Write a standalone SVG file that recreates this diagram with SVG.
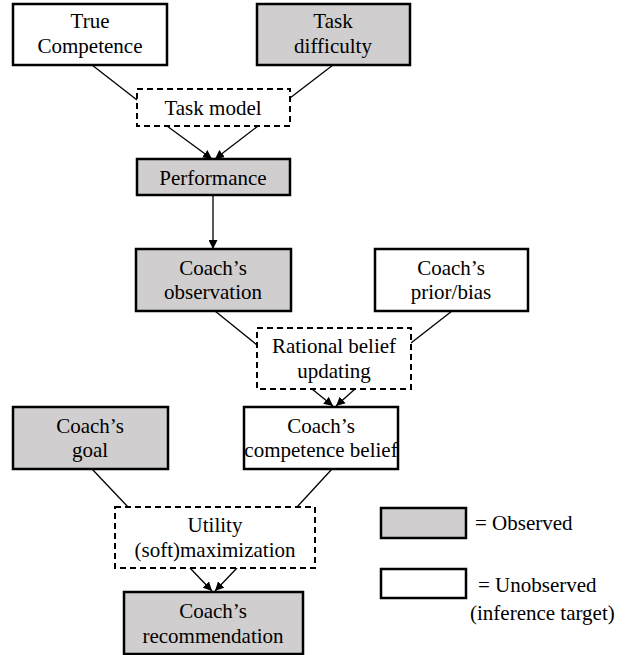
<svg xmlns="http://www.w3.org/2000/svg" width="626" height="655" viewBox="0 0 626 655" font-family="Times New Roman" font-size="21px">
<defs>
<marker id="ah" viewBox="0 0 10 10" refX="10" refY="5" markerWidth="9" markerHeight="9" markerUnits="userSpaceOnUse" orient="auto">
<path d="M0,0 L10,5 L0,10 z" fill="#000"/>
</marker>
</defs>
<style>
.obs{fill:#d0cece;stroke:#000;stroke-width:2.5}
.un{fill:#fff;stroke:#000;stroke-width:2.5}
.dash{fill:#fff;stroke:#000;stroke-width:2;stroke-dasharray:6,4}
.c{stroke:#000;stroke-width:1.3;fill:none}
</style>
<rect width="626" height="655" fill="#fff"/>
<g id="connectors">
<line class="c" x1="92" y1="65" x2="137" y2="100"/>
<line class="c" x1="333" y1="65" x2="290" y2="98"/>
<line class="c" x1="167" y1="126" x2="212" y2="159" marker-end="url(#ah)"/>
<line class="c" x1="258" y1="126" x2="215" y2="159" marker-end="url(#ah)"/>
<line class="c" x1="213" y1="195" x2="213" y2="249" marker-end="url(#ah)"/>
<line class="c" x1="215" y1="311" x2="257" y2="345"/>
<line class="c" x1="452" y1="311" x2="411" y2="343"/>
<line class="c" x1="312" y1="389" x2="333" y2="406" marker-end="url(#ah)"/>
<line class="c" x1="355" y1="389" x2="336" y2="406" marker-end="url(#ah)"/>
<line class="c" x1="92" y1="469" x2="128" y2="507"/>
<line class="c" x1="332" y1="469" x2="297" y2="507"/>
<line class="c" x1="190" y1="568" x2="212" y2="591" marker-end="url(#ah)"/>
<line class="c" x1="237" y1="568" x2="215" y2="591" marker-end="url(#ah)"/>
</g>
<g id="true-competence">
<rect class="un" x="13" y="4" width="154" height="61"/>
<text x="90" y="28" text-anchor="middle">True</text>
<text x="90" y="53" text-anchor="middle">Competence</text>
</g>
<g id="task-difficulty">
<rect class="obs" x="257" y="4" width="153" height="61"/>
<text x="333" y="28" text-anchor="middle">Task</text>
<text x="333" y="53" text-anchor="middle">difficulty</text>
</g>
<g id="task-model">
<rect class="dash" x="137" y="89" width="153" height="37"/>
<text x="213" y="115" text-anchor="middle">Task model</text>
</g>
<g id="performance">
<rect class="obs" x="137" y="159" width="153" height="36"/>
<text x="213" y="185" text-anchor="middle">Performance</text>
</g>
<g id="coach-observation">
<rect class="obs" x="136" y="249" width="155" height="62"/>
<text x="213" y="275" text-anchor="middle">Coach’s</text>
<text x="213" y="299" text-anchor="middle">observation</text>
</g>
<g id="coach-prior">
<rect class="un" x="375" y="249" width="153" height="62"/>
<text x="451" y="275" text-anchor="middle">Coach’s</text>
<text x="451" y="299" text-anchor="middle">prior/bias</text>
</g>
<g id="rational-belief-updating">
<rect class="dash" x="257" y="328" width="154" height="61"/>
<text x="334" y="353" text-anchor="middle">Rational belief</text>
<text x="334" y="378" text-anchor="middle">updating</text>
</g>
<g id="coach-goal">
<rect class="obs" x="13" y="407" width="155" height="62"/>
<text x="90" y="433" text-anchor="middle">Coach’s</text>
<text x="90" y="457" text-anchor="middle">goal</text>
</g>
<g id="coach-competence-belief">
<rect class="un" x="244" y="407" width="154" height="62"/>
<text x="321" y="433" text-anchor="middle">Coach’s</text>
<text x="321" y="457" text-anchor="middle">competence belief</text>
</g>
<g id="utility-maximization">
<rect class="dash" x="115" y="507" width="200" height="61"/>
<text x="215" y="532" text-anchor="middle">Utility</text>
<text x="215" y="557" text-anchor="middle">(soft)maximization</text>
</g>
<g id="coach-recommendation">
<rect class="obs" x="124" y="592" width="179" height="62"/>
<text x="213" y="618" text-anchor="middle">Coach’s</text>
<text x="213" y="643" text-anchor="middle">recommendation</text>
</g>
<g id="legend">
<rect class="obs" x="381" y="508" width="85" height="30"/>
<text x="475" y="530">=  Observed</text>
<rect class="un" x="381" y="569" width="85" height="29"/>
<text x="478" y="592">= Unobserved</text>
<text x="470" y="620">(inference target)</text>
</g>
</svg>
